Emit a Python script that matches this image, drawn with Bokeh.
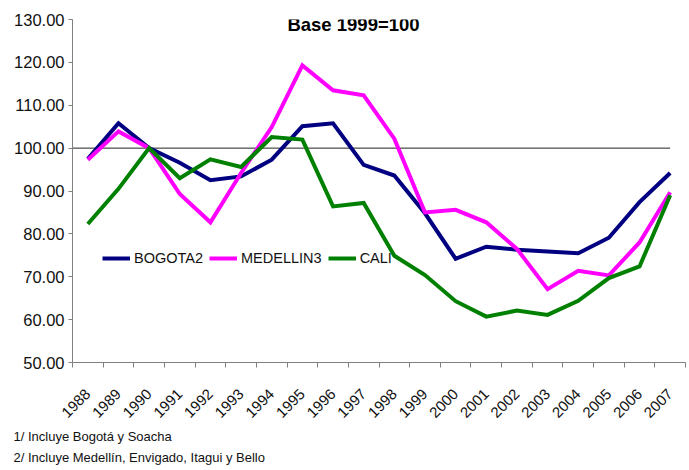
import math
from bokeh.plotting import figure
from bokeh.models import (Range1d, FixedTicker, NumeralTickFormatter, Label,
                          Legend, LegendItem, Title)
from bokeh.embed import file_html
from bokeh.resources import INLINE

# ---- data ----
years = list(range(1988, 2008))
bogota = [97.5, 105.8, 100.0, 96.6, 92.5, 93.4, 97.3, 105.1, 105.8, 96.1,
          93.6, 84.8, 74.2, 77.0, 76.3, 75.9, 75.5, 79.1, 87.4, 94.2]
medellin = [97.3, 103.9, 100.0, 89.3, 82.7, 94.2, 104.9, 119.3, 113.5, 112.3,
            102.2, 85.0, 85.6, 82.7, 76.5, 67.1, 71.4, 70.3, 78.0, 89.7]
cali = [82.3, 90.5, 100.0, 93.0, 97.4, 95.6, 102.6, 102.0, 86.4, 87.2,
        74.9, 70.4, 64.3, 60.7, 62.1, 61.1, 64.4, 69.7, 72.4, 89.0]
series_names = ["BOGOTA2", "MEDELLIN3", "CALI"]
y_ticks = [50, 60, 70, 80, 90, 100, 110, 120, 130]
base_value = 100
title_text = "Base 1999=100"
notes = ["1/ Incluye Bogotá y Soacha",
         "2/ Incluye Medellín, Envigado, Itagui y Bello"]

FONT = "Liberation Sans"

p = figure(frame_width=613, frame_height=343,
           min_border_left=72, min_border_right=4, min_border_top=19,
           min_border_bottom=0,
           x_range=Range1d(years[0] - 0.5, years[-1] + 0.5),
           y_range=Range1d(y_ticks[0], y_ticks[-1]),
           output_backend="svg", toolbar_location=None)
p.outline_line_color = None
p.xgrid.visible = False
p.ygrid.visible = False
p.background_fill_color = "white"

# x axis: ticks at category boundaries, labels at centers
xa = p.xaxis[0]
xa.ticker = FixedTicker(ticks=years,
                        minor_ticks=[y - 0.5 for y in years] + [years[-1] + 0.5])
xa.major_tick_out = 0
xa.major_tick_in = 0
xa.minor_tick_out = 5
xa.minor_tick_in = 0
xa.minor_tick_line_color = "#808080"
xa.axis_line_color = "#808080"
xa.major_label_orientation = math.pi / 4
xa.major_label_standoff = 24
xa.major_label_text_font = FONT
xa.major_label_text_font_size = "15px"
xa.major_label_text_color = "#111111"

ya = p.yaxis[0]
ya.ticker = FixedTicker(ticks=y_ticks)
ya.formatter = NumeralTickFormatter(format="0.00")
ya.major_tick_out = 4
ya.major_tick_in = 0
ya.minor_tick_line_color = None
ya.major_tick_line_color = "#808080"
ya.axis_line_color = "#808080"
ya.major_label_standoff = 4
ya.major_label_text_font = FONT
ya.major_label_text_font_size = "16.5px"
ya.major_label_text_color = "#111111"

# base reference line
p.segment(x0=[years[0] - 0.5], x1=[years[-1]], y0=[base_value], y1=[base_value],
          line_color="#222222", line_width=1)

colors = ["#000080", "#FF00FF", "#008000"]
rs = []
for vals, c in zip([bogota, medellin, cali], colors):
    r = p.line(years, vals, line_color=c, line_width=4, line_join="miter")
    rs.append(r)

legend = Legend(items=[LegendItem(label=n, renderers=[r]) for n, r in zip(series_names, rs)],
                orientation="horizontal", location=(30, 94),
                border_line_color=None, background_fill_alpha=0,
                glyph_width=28, glyph_height=20, label_standoff=4, spacing=6,
                padding=0, margin=0,
                label_text_font=FONT, label_text_font_size="14.5px",
                label_text_color="#111111", label_text_baseline="middle")
p.add_layout(legend)

p.add_layout(Label(x=281, y=338, x_units="screen", y_units="screen",
                   text=title_text, text_align="center", text_baseline="alphabetic",
                   text_font=FONT, text_font_style="bold",
                   text_font_size="18.5px", text_color="#000000"))
for i, t in enumerate(notes):
    p.add_layout(Title(text=t, align="left", offset=-59, standoff=(2 if i == 0 else 6),
                       text_font=FONT, text_font_style="normal",
                       text_font_size="13px", text_color="#111111"), "below")

open("out.html", "w").write(file_html(p, INLINE))
